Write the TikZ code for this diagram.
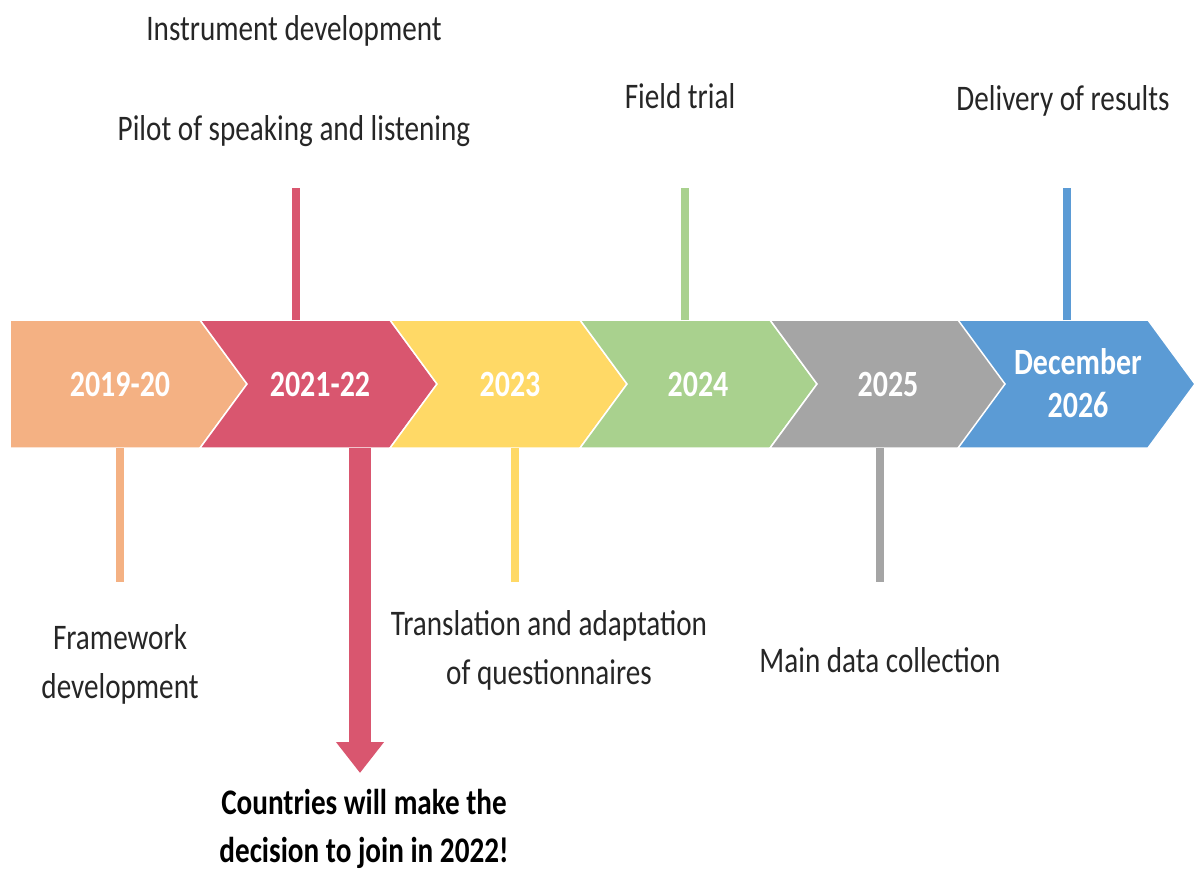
\documentclass[tikz,border=0pt]{standalone}
\usepackage{fontspec}
\setmainfont{Carlito}[FakeStretch=0.81]
\usetikzlibrary{arrows.meta}
\definecolor{cOrange}{HTML}{F4B183}
\definecolor{cPink}{HTML}{D9566F}
\definecolor{cYellow}{HTML}{FFD966}
\definecolor{cGreen}{HTML}{A9D18E}
\definecolor{cGrey}{HTML}{A5A5A5}
\definecolor{cBlue}{HTML}{5B9BD5}
\tikzset{
  chev/.style={draw=white, line width=1.5pt, line join=miter},
  yearlbl/.style={text=white, font=\fontsize{37}{43}\selectfont\bfseries, anchor=base, align=center, inner sep=0pt},
  note/.style={text=black!85, font=\fontsize{36}{49}\selectfont, anchor=base, align=center, inner sep=0pt},
  bignote/.style={text=black, font=\fontsize{36}{48}\selectfont\bfseries, anchor=base, align=center, inner sep=0pt},
  stem/.style={line width=8pt},
}
\begin{document}
\begin{tikzpicture}[x=1pt,y=-1pt]
\useasboundingbox (0,0) rectangle (1198,871);

% chevron band
\fill[cOrange, chev] (10,320) -- (200,320) -- (247,384) -- (200,448) -- (10,448) -- cycle;
\foreach \x/\c in {200/cPink, 390/cYellow, 580/cGreen, 770/cGrey, 958/cBlue}{
  \fill[\c, chev] (\x,320) -- ({\x+190},320) -- ({\x+237},384) -- ({\x+190},448) -- (\x,448) -- ({\x+47},384) -- cycle;
}

% year labels (base anchor sits on the last line)
\node[yearlbl] (y1) at (120,396) {2019-20};
\node[yearlbl] (y2) at (320,396) {2021-22};
\node[yearlbl] (y3) at (510,396) {2023};
\node[yearlbl] (y4) at (698,396) {2024};
\node[yearlbl] (y5) at (888,396) {2025};
\node[yearlbl] (y6) at (1078,417) {December\\2026};

% stem end points
\coordinate (s2a) at (296,320); \coordinate (s2b) at (296,188);
\coordinate (s4a) at (685,320); \coordinate (s4b) at (685,188);
\coordinate (s6a) at (1067,320); \coordinate (s6b) at (1067,188);
\coordinate (s1a) at (120,448); \coordinate (s1b) at (120,582);
\coordinate (s3a) at (515,448); \coordinate (s3b) at (515,582);
\coordinate (s5a) at (880,448); \coordinate (s5b) at (880,582);
\coordinate (ka) at (360,448); \coordinate (kb) at (360,773);

\draw[stem, cPink] (s2a) -- (s2b);
\draw[stem, cGreen] (s4a) -- (s4b);
\draw[stem, cBlue] (s6a) -- (s6b);
\draw[stem, cOrange] (s1a) -- (s1b);
\draw[stem, cYellow] (s3a) -- (s3b);
\draw[stem, cGrey] (s5a) -- (s5b);
\draw[cPink, line width=22pt, -{Triangle[width=46pt, length=31pt]}] (ka) -- (kb);

% milestone notes
\node[note] (n1) at (294,40) {Instrument development};
\node[note] (n2) at (294,140) {Pilot of speaking and listening};
\node[note] (n3) at (680,108) {Field trial};
\node[note] (n4) at (1063,110) {Delivery of results};
\node[note] (n5) at (120,698) {Framework\\development};
\node[note] (n6) at (549,684) {Translation and adaptation\\of questionnaires};
\node[note] (n7) at (880,672) {Main data collection};
\node[bignote] (n8) at (364,862) {Countries will make the\\decision to join in 2022!};
\end{tikzpicture}
\end{document}
